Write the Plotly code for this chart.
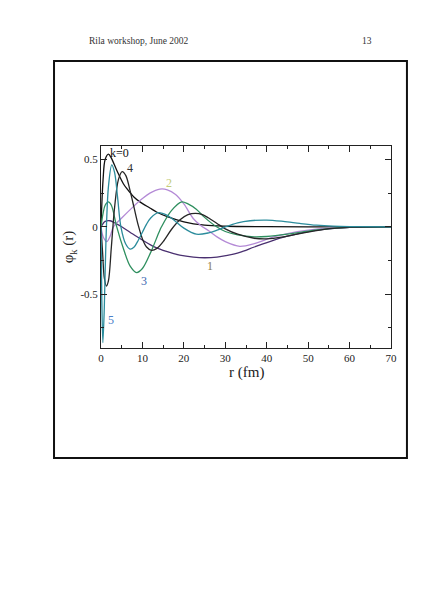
import plotly.graph_objects as go

# ---- data ----
r_k0 = [0, 0.5, 1, 1.8, 2.5, 3.8, 5.4, 6.2, 8, 9.4, 11.8, 13.4, 16, 20, 25, 30, 40, 50, 70]
v_k0 = [0, 0.35, 0.5, 0.54, 0.51, 0.42, 0.32, 0.285, 0.22, 0.185, 0.14, 0.11, 0.075, 0.037, 0.012, 0.004, 0.001, 0, 0]

r_k1 = [0, 1, 2.2, 3.5, 5, 7, 9, 12.6, 16, 19, 22.3, 25, 28, 30.5, 33.5, 37, 41.6, 45, 49.6, 55, 62, 70]
v_k1 = [0, 0.04, 0.045, 0.025, 0, -0.04, -0.08, -0.145, -0.185, -0.21, -0.225, -0.23, -0.225, -0.212, -0.19, -0.15, -0.1, -0.07, -0.037, -0.015, -0.003, 0]

r_k2 = [0, 0.6, 1.4, 2.2, 3, 5, 7.8, 10, 11.8, 14.2, 16, 18, 20, 22.3, 24, 26, 28, 30, 33.5, 37, 41.6, 45, 50, 55, 60, 70]
v_k2 = [0, -0.08, -0.11, -0.07, 0, 0.065, 0.15, 0.21, 0.25, 0.28, 0.275, 0.24, 0.17, 0.06, 0.012, -0.03, -0.075, -0.11, -0.145, -0.125, -0.075, -0.05, -0.025, -0.01, -0.004, 0]

r_k3 = [0, 0.5, 1, 1.77, 2.5, 3.8, 5.5, 7, 8.6, 10, 12, 14, 14.6, 17, 19.5, 21, 23, 25, 27.9, 30, 33, 37, 40, 45, 50, 55, 60, 70]
v_k3 = [0, 0.1, 0.16, 0.185, 0.16, 0.0, -0.17, -0.29, -0.34, -0.31, -0.19, -0.04, 0, 0.12, 0.185, 0.17, 0.13, 0.07, 0.0, -0.035, -0.06, -0.075, -0.072, -0.055, -0.032, -0.014, -0.005, 0]

r_k4 = [0, 0.4, 0.8, 1.3, 1.8, 2.5, 3.3, 4.2, 5.1, 6, 7, 8, 9, 10, 11, 12.2, 13.5, 15, 17, 19, 21, 22.8, 24.5, 26, 28, 30, 33, 37, 40, 44, 48, 52, 56, 60, 70]
v_k4 = [0, -0.2, -0.38, -0.44, -0.4, -0.15, 0.15, 0.35, 0.41, 0.38, 0.27, 0.14, 0.01, -0.09, -0.15, -0.175, -0.16, -0.11, -0.02, 0.05, 0.09, 0.1, 0.09, 0.065, 0.025, -0.015, -0.055, -0.085, -0.09, -0.075, -0.05, -0.028, -0.012, -0.005, 0]

r_k5 = [0, 0.2, 0.45, 0.8, 1.2, 1.8, 2.6, 3.3, 4, 4.8, 6, 7, 8, 9, 10, 11, 12, 13.8, 16, 18, 20, 23, 26, 28, 30, 33, 36, 40, 44, 48, 52, 56, 60, 70]
v_k5 = [0, -0.55, -0.86, -0.6, -0.1, 0.3, 0.46, 0.4, 0.22, 0.0, -0.13, -0.165, -0.15, -0.1, -0.04, 0.02, 0.065, 0.105, 0.085, 0.04, -0.01, -0.055, -0.045, -0.025, 0, 0.03, 0.045, 0.05, 0.04, 0.025, 0.012, 0.005, 0.002, 0]

curve_names = ["k=0", "1", "2", "3", "4", "5"]
curve_r = [r_k0, r_k1, r_k2, r_k3, r_k4, r_k5]
curve_v = [v_k0, v_k1, v_k2, v_k3, v_k4, v_k5]
curve_colors = ["#111111", "#4a3070", "#b48ad6", "#2f8f5f", "#262626", "#2b8c9c"]

label_text = ["k=0", "4", "2", "3", "1", "5"]
label_r = [4.4, 7.0, 16.5, 10.4, 26.2, 2.4]
label_v = [0.55, 0.435, 0.325, -0.40, -0.29, -0.69]
label_colors = ["#111111", "#333333", "#c4cc7a", "#3a66b0", "#8a7a50", "#4a80c8"]

x_ticks = [0, 10, 20, 30, 40, 50, 60, 70]
y_ticks = [-0.5, 0, 0.5]
y_tick_text = ["-0.5", "0", "0.5"]

SERIF = "Liberation Serif, Times New Roman, serif"

fig = go.Figure()
for name, rr, vv, col in zip(curve_names, curve_r, curve_v, curve_colors):
    fig.add_trace(go.Scatter(x=rr, y=vv, mode="lines", name=name,
                             line=dict(color=col, width=1.3, shape="spline", smoothing=0.9),
                             showlegend=False, hoverinfo="skip"))

annotations = []
for t, xr, yv, c in zip(label_text, label_r, label_v, label_colors):
    annotations.append(dict(x=xr, y=yv, xref="x", yref="y", text=t, showarrow=False,
                            font=dict(family=SERIF, size=12, color=c)))

# axis titles
annotations.append(dict(x=0.5, y=-0.12, xref="paper", yref="paper", text="r (fm)",
                        showarrow=False, yanchor="middle",
                        font=dict(family=SERIF, size=15, color="#222")))
annotations.append(dict(x=-0.147, y=0.5, xref="paper", yref="paper", text="φ<sub>k</sub> (r)",
                        showarrow=False, textangle=-90,
                        font=dict(family=SERIF, size=15, color="#222")))
# page header
annotations.append(dict(x=-0.048, y=1.555, xref="paper", yref="paper", text="Rila workshop, June 2002",
                        showarrow=False, xanchor="left",
                        font=dict(family=SERIF, size=9.5, color="#333")))
annotations.append(dict(x=0.941, y=1.555, xref="paper", yref="paper", text="13",
                        showarrow=False,
                        font=dict(family=SERIF, size=9.5, color="#333")))

axis_common = dict(showgrid=False, zeroline=False, showline=True, linecolor="#222", linewidth=1,
                   mirror="ticks", ticks="inside", ticklen=6, tickcolor="#222",
                   tickfont=dict(family=SERIF, size=11, color="#222"))

fig.update_layout(
    width=428, height=592,
    margin=dict(l=93, r=45, t=138, b=252),
    paper_bgcolor="white", plot_bgcolor="white",
    xaxis=dict(range=[0, 70], tickvals=x_ticks,
               minor=dict(dtick=5, ticks="inside", ticklen=3, tickcolor="#222"),
               **axis_common),
    yaxis=dict(range=[-0.9, 0.6], tickvals=y_ticks, ticktext=y_tick_text,
               minor=dict(dtick=0.25, ticks="inside", ticklen=3, tickcolor="#222"),
               **axis_common),
    annotations=annotations,
    shapes=[dict(type="rect", xref="paper", yref="paper", x0=-0.162, x1=1.055, y0=-0.545, y1=1.421,
                 line=dict(color="#111", width=2), fillcolor="rgba(0,0,0,0)", layer="below")],
)

fig.write_html("out.html")
